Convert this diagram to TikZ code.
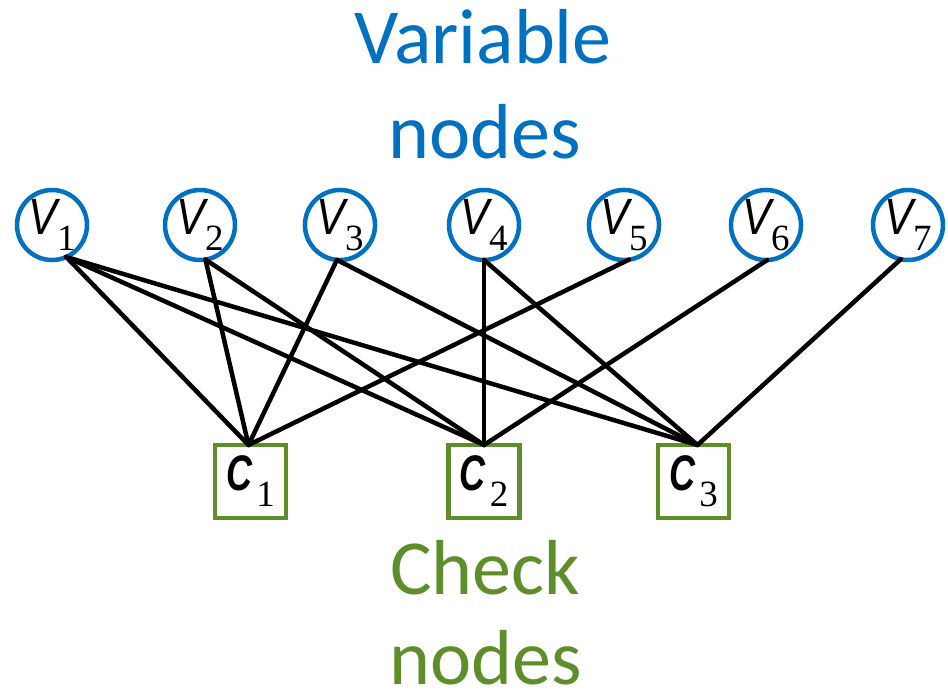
\documentclass[tikz,border=0pt]{standalone}
\usepackage{fontspec}
\usepackage{graphicx}
\setmainfont{Liberation Serif}
\newfontfamily\titlefont{Carlito}
\newfontfamily\labsansfont{Liberation Sans}
\definecolor{vblue}{RGB}{0,112,192}
\definecolor{cgreen}{RGB}{94,142,42}
\newcommand{\myvlab}[1]{\scalebox{0.85}[1]{\labsansfont\fontsize{51}{51}\selectfont\itshape V}\raisebox{-16pt}{\fontsize{37}{37}\selectfont #1}}
\newcommand{\myclab}[1]{\scalebox{0.72}[1]{\labsansfont\fontsize{50}{50}\selectfont\bfseries\itshape C}\kern4pt\raisebox{-16pt}{\fontsize{37}{37}\selectfont #1}}
\tikzset{
  vnode/.style={circle, draw=vblue, line width=4.5pt, minimum size=70pt, inner sep=0pt, outer sep=0pt},
  cnode/.style={rectangle, draw=cgreen, line width=4.5pt, minimum width=71pt, minimum height=73pt, inner sep=0pt, outer sep=0pt},
  link/.style={line width=4.5pt, black, line cap=round},
  vtitle/.style={font=\titlefont\fontsize{78}{92}\selectfont, text=vblue, anchor=base},
  ctitle/.style={font=\titlefont\fontsize{78}{92}\selectfont, text=cgreen, anchor=base}
}
\begin{document}
\begin{tikzpicture}[x=1pt,y=-1pt]
\useasboundingbox (0,0) rectangle (948,694);
\node[vtitle] (tv1) at (483,63) {Variable};
\node[vtitle] (tv2) at (485,158) {nodes};
\node[ctitle] (tc1) at (485,594) {Check};
\node[ctitle] (tc2) at (486,684) {nodes};

\node[vnode] (v1) at (52,225) {\myvlab{1}};
\node[vnode] (v2) at (200,225) {\myvlab{2}};
\node[vnode] (v3) at (340,225) {\myvlab{3}};
\node[vnode] (v4) at (484,225) {\myvlab{4}};
\node[vnode] (v5) at (624,225) {\myvlab{5}};
\node[vnode] (v6) at (766,225) {\myvlab{6}};
\node[vnode] (v7) at (908,225) {\myvlab{7}};

\node[cnode] (c1) at (250.5,481.5) {\myclab{1}};
\node[cnode] (c2) at (484,481.5) {\myclab{2}};
\node[cnode] (c3) at (693.5,481.5) {\myclab{3}};

\coordinate (k1) at ([xshift=-2pt]c1.north);
\coordinate (k2) at (c2.north);
\coordinate (k3) at ([xshift=4pt]c3.north);

\draw[link] (v1.-66) -- (k1);
\draw[link] (v1.-66) -- (k2);
\draw[link] (v1.-66) -- (k3);
\draw[link] (v2.-81) -- (k1);
\draw[link] (v2.-81) -- (k2);
\draw[link] (v3.-95) -- (k1);
\draw[link] (v3.-95) -- (k3);
\draw[link] (v4.-90) -- (k2);
\draw[link] (v4.-90) -- (k3);
\draw[link] (v5.-82) -- (k1);
\draw[link] (v6.-88) -- (k2);
\draw[link] (v7.-102) -- (k3);
\end{tikzpicture}
\end{document}
